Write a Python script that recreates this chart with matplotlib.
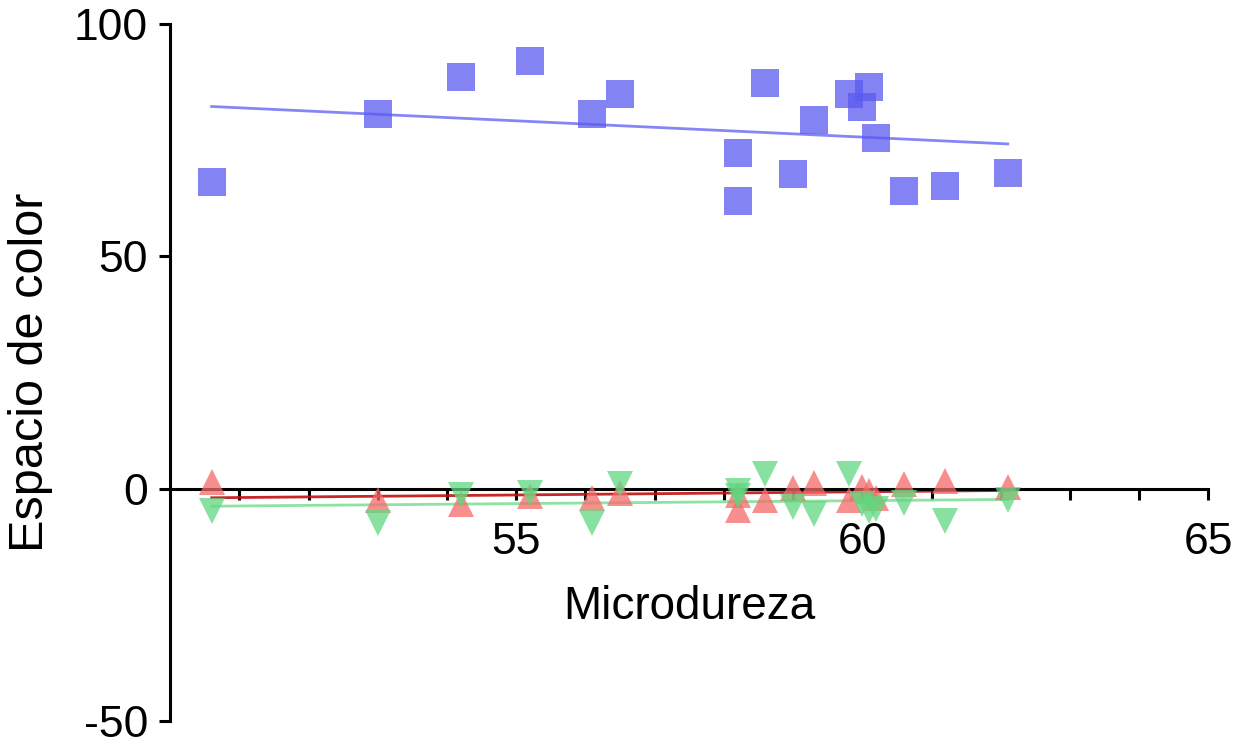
import numpy as np
import matplotlib.pyplot as plt

# Microdureza de cada muestra
microdureza = [50.6, 53.0, 54.2, 55.2, 56.1, 56.5, 58.2, 58.2, 58.6,
               59.0, 59.3, 59.8, 60.1, 60.0, 60.2, 60.6, 61.2, 62.1]
# Coordenadas de color (L, a, b)
valor_L = [65.9, 80.5, 88.6, 92.1, 80.7, 85.0, 72.3, 61.8, 87.3,
           67.6, 79.4, 85.0, 86.5, 82.0, 75.5, 64.0, 65.2, 67.8]
valor_a = [1.5, -2.4, -3.4, -1.7, -2.1, -0.9, -1.3, -4.7, -2.4,
           0.2, 1.3, -2.4, -0.6, 0.4, -2.1, 0.9, 1.7, 0.4]
valor_b = [-4.9, -7.5, -1.3, -1.0, -7.5, 0.9, -0.6, -1.5, 3.2,
           -3.9, -5.4, 3.2, -4.9, -3.4, -4.5, -3.2, -6.9, -2.4]

plt.rcParams['font.family'] = ['Liberation Sans', 'DejaVu Sans']
plt.rcParams['axes.unicode_minus'] = False

fig = plt.figure(figsize=(12.42, 7.44), dpi=100)
ax = fig.add_axes([0.137, 0.031, 0.836, 0.937])

x = np.array(microdureza)
series = [
    (valor_L, 's', '#5a5af0', '#7878f5', 20),
    (valor_a, '^', '#f56a6a', '#c01010', 19),
    (valor_b, 'v', '#60d880', '#80e098', 19),
]
for vals, marker, color, lcolor, ms in series:
    y = np.array(vals)
    ax.plot(x, y, linestyle='none', marker=marker, markersize=ms,
            color=color, alpha=0.75, markeredgewidth=0, zorder=3)
    # recta de regresion
    pend, inter = np.polyfit(x, y, 1)
    xs = np.array([x.min(), x.max()])
    ax.plot(xs, pend * xs + inter, color=lcolor, linewidth=2, alpha=0.9, zorder=2)

ax.set_xlim(50, 65)
ax.set_ylim(-50, 100)

ax.spines['top'].set_visible(False)
ax.spines['right'].set_visible(False)
ax.spines['bottom'].set_position(('data', 0))
ax.spines['left'].set_linewidth(2.2)
ax.spines['bottom'].set_linewidth(2.2)
ax.spines['bottom'].set_zorder(2.5)

ax.set_xticks([55, 60, 65])
ax.set_xticks(np.arange(51, 65), minor=True)
ax.set_yticks([-50, 0, 50, 100])
ax.tick_params(axis='both', which='both', direction='out', length=8, width=2.2,
               labelsize=32, pad=8)
ax.tick_params(axis='x', which='both', pad=16)

ax.set_xlabel('Microdureza', fontsize=33)
ax.set_ylabel('Espacio de color', fontsize=35)
ax.xaxis.set_label_coords(0.5, 0.195)
ax.yaxis.set_label_coords(-0.113, 0.5)

fig.savefig('out.png', dpi=100)
